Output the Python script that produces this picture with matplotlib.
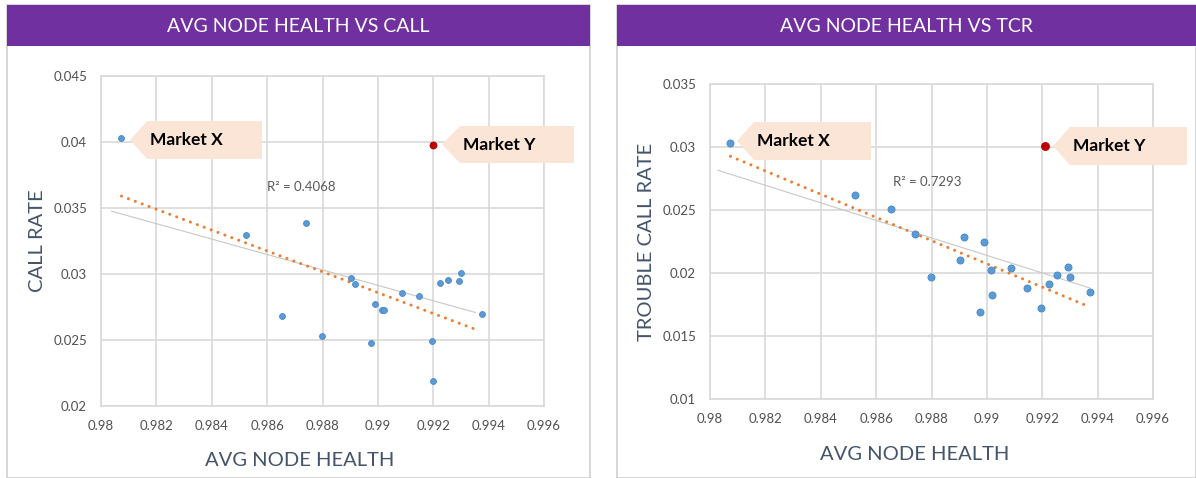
import numpy as np
import matplotlib
matplotlib.use("Agg")
import matplotlib.pyplot as plt
from matplotlib.patches import Polygon, Rectangle

plt.rcParams['font.family'] = ['Lato', 'DejaVu Sans']

W, H = 1196, 478

# ---- data ----
call_health = [0.98522, 0.98740, 0.98654, 0.98799, 0.98903, 0.98919, 0.98976,
               0.98989, 0.99014, 0.99021, 0.99088, 0.99147, 0.99196, 0.99200,
               0.99225, 0.99253, 0.99293, 0.99300, 0.99375]
call_rate = [0.03292, 0.03390, 0.02683, 0.02531, 0.02973, 0.02923, 0.02475,
             0.02776, 0.02725, 0.02728, 0.02859, 0.02832, 0.02490, 0.02190,
             0.02935, 0.02955, 0.02948, 0.03011, 0.02695]
call_mx = (0.98074, 0.04032)
call_my = (0.99200, 0.03979)
call_trend_x, call_trend_y = [0.98074, 0.99361], [0.03590, 0.02574]
call_gray_x, call_gray_y = [0.98038, 0.99353], [0.03476, 0.02708]
call_r2 = "R² = 0.4068"

tcr_health = [0.98522, 0.98654, 0.98739, 0.98797, 0.98904, 0.98919, 0.98976,
              0.98988, 0.99015, 0.99020, 0.99086, 0.99144, 0.99196, 0.99224,
              0.99254, 0.99294, 0.99299, 0.99372]
tcr_rate = [0.02622, 0.02508, 0.02310, 0.01968, 0.02106, 0.02283, 0.01688,
            0.02243, 0.02021, 0.01825, 0.02042, 0.01884, 0.01720, 0.01910,
            0.01987, 0.02045, 0.01968, 0.01850]
tcr_mx = (0.98074, 0.03029)
tcr_my = (0.99210, 0.03010)
tcr_trend_x, tcr_trend_y = [0.98074, 0.99372], [0.02926, 0.01730]
tcr_gray_x, tcr_gray_y = [0.98029, 0.99372], [0.02815, 0.01881]
tcr_r2 = "R² = 0.7293"

x_ticks = [0.98, 0.982, 0.984, 0.986, 0.988, 0.99, 0.992, 0.994, 0.996]
x_ticklabels = ["0.98", "0.982", "0.984", "0.986", "0.988", "0.99", "0.992", "0.994", "0.996"]
call_yticks = [0.02, 0.025, 0.03, 0.035, 0.04, 0.045]
call_yticklabels = ["0.02", "0.025", "0.03", "0.035", "0.04", "0.045"]
tcr_yticks = [0.01, 0.015, 0.02, 0.025, 0.03, 0.035]
tcr_yticklabels = ["0.01", "0.015", "0.02", "0.025", "0.03", "0.035"]

BLUE = "#5B9BD5"
ORANGE = "#ED7D31"
RED = "#C00000"
PURPLE = "#7030A0"
SLATE = "#44546A"
GRID = "#D9D9D9"
PEACH = "#FBE5D6"

fig = plt.figure(figsize=(W / 100, H / 100), dpi=100)


def fx(px):
    return px / W


def fy(py):
    return 1 - py / H


def panel(x0, x1, title):
    fig.patches.append(Rectangle((fx(x0), 0), fx(x1 - x0), fy(5), transform=fig.transFigure,
                                 facecolor="white", edgecolor="#CFCFCF", lw=1.2, zorder=-2))
    fig.patches.append(Rectangle((fx(x0), fy(46)), fx(x1 - x0), fy(5) - fy(46),
                                 transform=fig.transFigure, facecolor=PURPLE,
                                 edgecolor="none", zorder=-1))
    fig.text(fx((x0 + x1) / 2), fy(26), title, color="white", fontsize=14,
             ha="center", va="center")


def callout(tip, notch, right, top, bottom, label):
    pts = [(fx(tip), fy((top + bottom) / 2)), (fx(notch), fy(top)), (fx(right), fy(top)),
           (fx(right), fy(bottom)), (fx(notch), fy(bottom))]
    fig.patches.append(Polygon(pts, closed=True, transform=fig.transFigure,
                               facecolor=PEACH, edgecolor="none", zorder=5))
    fig.text(fx(notch + 3), fy((top + bottom) / 2), label, fontsize=12.5, fontweight="bold",
             color="black", ha="left", va="center", zorder=6)


def scatter_panel(ax, xs, ys, mx, my, tx, ty, gx, gy, yt, ytl, ylab, size, ylab_x, xlab_y, xlab_x):
    ax.set_zorder(2)
    ax.set_xlim(0.98, 0.996)
    ax.set_ylim(yt[0], yt[-1])
    ax.set_xticks(x_ticks)
    ax.set_xticklabels(x_ticklabels)
    ax.set_yticks(yt)
    ax.set_yticklabels(ytl)
    ax.grid(True, color=GRID, lw=1.2)
    ax.set_axisbelow(True)
    for s in ax.spines.values():
        s.set_color(GRID)
        s.set_linewidth(1.2)
    ax.tick_params(length=0, labelsize=9.5, labelcolor="#505050", pad=10)
    ax.plot(gx, gy, color="#C8C8C8", lw=0.8, zorder=2)
    ax.plot(tx, ty, color=ORANGE, lw=2.2, linestyle=(0, (0.01, 2.4)),
            dash_capstyle="round", zorder=3)
    ax.scatter(xs, ys, s=size, color=BLUE, edgecolor="#4A86C8", lw=0.6, zorder=4)
    ax.scatter([mx[0]], [mx[1]], s=size, color=BLUE, edgecolor="#4A86C8", lw=0.6, zorder=4)
    ax.scatter([my[0]], [my[1]], s=size + 8, color=RED, edgecolor="#A00000", lw=0.5, zorder=4)
    ax.set_ylabel(ylab, fontsize=14.5, color=SLATE)
    ax.yaxis.set_label_coords(ylab_x, 0.5)
    ax.set_xlabel("AVG NODE HEALTH", fontsize=14.5, color=SLATE)
    ax.xaxis.set_label_coords(xlab_x, xlab_y)
    ax.patch.set_alpha(0)


panel(7, 590, "AVG NODE HEALTH VS CALL")
panel(617, 1196, "AVG NODE HEALTH VS TCR")

ax1 = fig.add_axes([fx(101), fy(406), fx(443), fy(76) - fy(406)])
scatter_panel(ax1, call_health, call_rate, call_mx, call_my, call_trend_x, call_trend_y,
              call_gray_x, call_gray_y, call_yticks, call_yticklabels, "CALL RATE", 18,
              -0.125, -0.14, 0.449)
fig.text(fx(267), fy(187), call_r2, fontsize=9.5, color="#595959", va="center")

ax2 = fig.add_axes([fx(710), fy(399), fx(443), fy(84) - fy(399)])
scatter_panel(ax2, tcr_health, tcr_rate, tcr_mx, tcr_my, tcr_trend_x, tcr_trend_y,
              tcr_gray_x, tcr_gray_y, tcr_yticks, tcr_yticklabels, "TROUBLE CALL RATE", 26,
              -0.125, -0.15, 0.463)
fig.text(fx(893), fy(182), tcr_r2, fontsize=9.5, color="#595959", va="center")

callout(130, 147, 262, 121, 159, "Market X")
callout(442, 460, 574, 126, 163, "Market Y")
callout(737, 754, 871, 122, 160, "Market X")
callout(1053, 1070, 1187, 127, 165, "Market Y")

fig.savefig("out.png", dpi=100, facecolor="white")
